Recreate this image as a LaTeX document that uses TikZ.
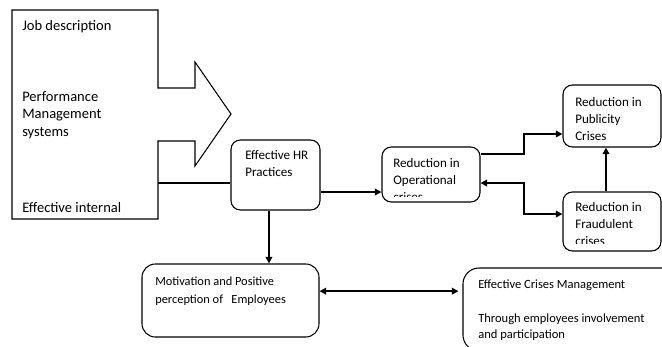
\documentclass[tikz,border=0pt]{standalone}
\usepackage{fontspec}
\setmainfont{Carlito}
\usetikzlibrary{arrows.meta,fit}

\begin{document}
\begin{tikzpicture}[x=0.75pt, y=-0.75pt, box/.style={draw, rounded corners=7pt, line width=0.8pt, inner sep=0pt}, txt/.style={anchor=north west, align=left, inner sep=0pt, font=\fontsize{9.8}{12.75}\selectfont}, link/.style={line width=1.5pt, -{Triangle[length=5pt, width=5pt]}}, both/.style={line width=1.5pt, {Triangle[length=5pt, width=5pt]}-{Triangle[length=5pt, width=5pt]}}]
	\clip (0,0) rectangle (662,347);
	% input panel with its arrow
	\draw[line width=0.8pt] (12,10) -- (158,10) -- (158,88) -- (195,88) -- (195,62) -- (231,114) -- (195,166) -- (195,141) -- (158,141) -- (158,219) -- (12,219) -- cycle;
	\coordinate (inputs) at (158,183);
	\node[txt, font=\fontsize{10.9}{13.1}\selectfont] (job) at (22,20) {Job description};
	\node[txt, font=\fontsize{10.9}{13.1}\selectfont] (pms) at (22,91) {Performance\\Management\\systems};
	\node[txt, font=\fontsize{10.9}{13.1}\selectfont] (internal) at (22,202) {Effective internal};
	% boxes
	\node[box, fit={(231,140) (320,210)}] (hr) {};
	\node[box, fit={(382,147) (480,202)}] (oper) {};
	\node[box, fit={(563,85) (661,147)}] (pub) {};
	\node[box, fit={(563,192) (661,251)}] (fraud) {};
	\node[box, rounded corners=10pt, fit={(142,264) (319,337)}] (mot) {};
	\node[box, rounded corners=12pt, fit={(463,268) (700,351)}] (ecm) {};
	\node[txt] (hrtext) at (245,150) {Effective HR\\Practices};
	\begin{scope}
		\clip (382,147) rectangle (480,196);
		\node[txt] (opertext) at (393,158) {Reduction in\\Operational\\crises};
	\end{scope}
	\begin{scope}
		\clip (563,85) rectangle (661,144);
		\node[txt] (pubtext) at (575,97) {Reduction in\\Publicity\\Crises};
	\end{scope}
	\begin{scope}
		\clip (563,192) rectangle (661,243);
		\node[txt] (fraudtext) at (575,202) {Reduction in\\Fraudulent\\crises};
	\end{scope}
	\node[txt, font=\fontsize{9.3}{13.5}\selectfont] (mottext) at (155,277) {Motivation and Positive\\perception of \ \ Employees};
	\node[txt, font=\fontsize{9.4}{12}\selectfont] (ecmtext) at (478,280) {Effective Crises Management\\[13pt]Through employees involvement\\and participation};
	% connectors
	\draw[line width=0.8pt] (inputs) -- (inputs -| hr.west);
	\coordinate (hrout) at ([yshift=-12.75pt]hr.east);
	\draw[link] (hrout) -- (hrout -| oper.west);
	\coordinate (opout) at ([yshift=-6pt]oper.north east);
	\coordinate (pubin) at ([yshift=-13.5pt]pub.west);
	\draw[link] (opout) -- ++(43,0) |- (pubin);
	\coordinate (opin) at ([yshift=-6.4pt]oper.east);
	\coordinate (frin) at ([yshift=5.6pt]fraud.west);
	\draw[both] (opin) -- ++(43,0) |- (frin);
	\draw[link] ([xshift=-4.5pt]fraud.north) -- ([xshift=-4.5pt]pub.south);
	\coordinate (hrdown) at ([xshift=-4.9pt]hr.south);
	\draw[link] (hrdown) -- (hrdown |- mot.north);
	\coordinate (motout) at ([yshift=7pt]mot.east);
	\draw[both, shorten >=3pt] (motout) -- (motout -| ecm.west);
\end{tikzpicture}
\end{document}
